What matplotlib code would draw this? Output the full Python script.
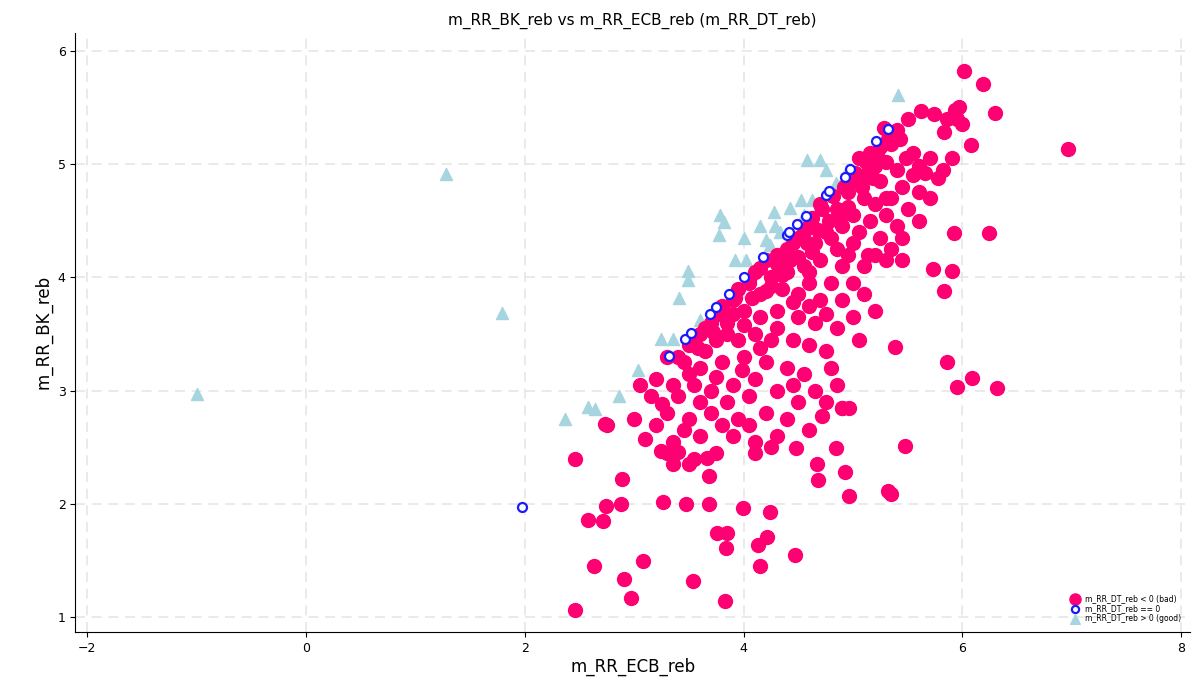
import matplotlib
matplotlib.use("Agg")
import matplotlib.pyplot as plt

# m_RR_DT_reb < 0 (bad)
bad = [
    (6.01, 5.82), (6.19, 5.71), (6.30, 5.45), (6.96, 5.13), (6.08, 5.17), (6.24, 4.39), (5.92, 4.39),
    (5.73, 4.07), (5.90, 4.06), (5.83, 3.88), (5.86, 3.25), (5.95, 3.03), (6.09, 3.11), (6.32, 3.02),
    (5.38, 3.39), (5.47, 2.51), (5.32, 2.11), (5.35, 2.09), (4.67, 2.35), (4.93, 2.28), (4.96, 2.07),
    (4.47, 1.55), (4.21, 1.71), (4.13, 1.64), (4.15, 1.45), (3.99, 1.96), (4.24, 1.93), (3.85, 1.74),
    (3.76, 1.74), (3.84, 1.61), (3.54, 1.32), (3.83, 1.14), (3.68, 2.00), (3.66, 2.41), (3.68, 2.25),
    (3.47, 2.00), (3.26, 2.02), (3.08, 1.50), (2.97, 1.17), (2.91, 1.34), (2.88, 2.00), (2.74, 1.98),
    (2.71, 1.85), (2.58, 1.86), (2.63, 1.45), (2.46, 2.40), (2.46, 1.06), (2.89, 2.22), (2.73, 2.71),
    (3.10, 2.57), (3.24, 2.47), (3.35, 2.35), (3.40, 2.46), (4.68, 2.21), (4.48, 2.49), (4.84, 2.49),
    (4.96, 2.85), (4.90, 2.85), (4.72, 2.78), (5.14, 4.20),
    (5.93, 5.48), (5.97, 5.50), (5.86, 5.40), (5.95, 5.40), (5.62, 5.47), (5.74, 5.44), (5.28, 5.32),
    (5.25, 5.15), (5.35, 5.18), (5.50, 5.40), (5.83, 5.28), (6.00, 5.35), (5.43, 5.22),
    (5.05, 5.05), (5.15, 5.10), (5.20, 4.98), (5.30, 5.02), (5.40, 4.95), (5.55, 5.10), (5.60, 4.98),
    (5.70, 5.05), (5.82, 4.95), (5.66, 4.92), (5.78, 4.88), (5.12, 4.90), (5.00, 4.85), (5.25, 4.85),
    (5.45, 4.80), (5.90, 5.05), (5.70, 4.70), (5.35, 4.70), (5.60, 4.75), (4.95, 4.75), (5.10, 4.70),
    (4.70, 4.65), (4.85, 4.60), (5.00, 4.55), (5.15, 4.50), (5.30, 4.55), (5.50, 4.60), (5.20, 4.65),
    (4.90, 4.45), (4.60, 4.45), (4.75, 4.40), (5.05, 4.40), (5.25, 4.35), (5.40, 4.45), (4.50, 4.35),
    (4.65, 4.30), (4.85, 4.25), (5.00, 4.30), (5.35, 4.25), (5.45, 4.35), (5.60, 4.50), (5.20, 4.20),
    (5.30, 4.15), (5.45, 4.15), (5.10, 4.10),
    (4.20, 4.15), (4.30, 4.20), (4.40, 4.25), (4.10, 4.05), (4.25, 4.00), (4.40, 4.05), (4.55, 4.10),
    (4.70, 4.15), (4.90, 4.10), (4.60, 3.95), (4.80, 3.95), (5.00, 3.95), (4.05, 3.95), (3.95, 3.90),
    (4.15, 3.85), (4.35, 3.90), (4.50, 3.85), (4.70, 3.80), (4.90, 3.80), (5.10, 3.85), (5.20, 3.70),
    (5.00, 3.65),
    (3.80, 3.75), (3.90, 3.80), (3.70, 3.60), (3.85, 3.60), (4.00, 3.70), (4.15, 3.65), (4.30, 3.70),
    (4.50, 3.65), (4.65, 3.60), (4.85, 3.55), (3.60, 3.50), (3.75, 3.45), (3.95, 3.45), (4.10, 3.50),
    (4.25, 3.45), (4.45, 3.45), (4.60, 3.40), (5.05, 3.45), (4.75, 3.35), (3.50, 3.40), (3.65, 3.35),
    (3.30, 3.30), (3.45, 3.25), (3.60, 3.20), (3.80, 3.25), (4.00, 3.30), (4.20, 3.25), (4.40, 3.20),
    (4.55, 3.15), (4.80, 3.20), (3.20, 3.10), (3.35, 3.05), (3.55, 3.05), (3.70, 3.00), (3.90, 3.05),
    (4.10, 3.10), (4.30, 3.00), (4.45, 3.05), (4.65, 3.00), (4.85, 3.05), (3.15, 2.95), (3.40, 2.95),
    (3.60, 2.90), (3.85, 2.90), (4.05, 2.95), (4.50, 2.90), (4.75, 2.90), (3.05, 3.05),
    (3.30, 2.80), (3.50, 2.75), (3.70, 2.80), (3.95, 2.75), (4.20, 2.80), (4.40, 2.75), (4.60, 2.65),
    (4.90, 2.85), (3.20, 2.70), (3.45, 2.65), (3.80, 2.70), (4.05, 2.70), (4.30, 2.60), (3.35, 2.55),
    (3.60, 2.60), (3.90, 2.60), (4.10, 2.55), (3.00, 2.75), (2.75, 2.70),
    (3.50, 2.35), (3.75, 2.45), (4.10, 2.45), (4.25, 2.50), (3.30, 2.45), (3.55, 2.40),
    # dense band just under the diagonal
    (3.40, 3.30), (3.55, 3.45), (3.65, 3.55), (3.78, 3.68), (3.92, 3.82), (4.05, 3.98), (4.15, 4.08),
    (4.30, 4.12), (4.45, 4.30), (4.55, 4.40), (4.62, 4.52), (4.72, 4.60), (4.82, 4.72), (4.92, 4.80),
    (5.02, 4.92), (5.12, 5.02), (5.22, 5.10), (5.32, 5.22), (5.40, 5.30), (3.85, 3.50), (4.00, 3.58),
    (4.20, 3.88), (4.35, 4.02), (4.50, 4.18), (4.62, 4.22), (4.78, 4.50), (4.95, 4.62), (5.08, 4.80),
    (5.18, 4.88), (3.58, 3.38), (3.72, 3.52), (3.90, 3.68), (4.08, 3.82), (4.25, 3.92), (4.42, 4.15),
    (4.58, 4.30), (4.68, 4.42), (4.88, 4.52), (4.80, 4.35), (4.95, 4.20), (4.60, 4.05), (4.45, 3.78),
    (4.30, 3.55), (4.15, 3.38), (3.98, 3.18), (3.75, 3.12), (3.50, 3.15), (3.25, 2.88), (4.60, 3.75),
    (4.75, 3.68), (5.30, 4.70), (5.55, 4.90), (5.48, 5.05),
]

# m_RR_DT_reb == 0
zero = [
    (1.97, 1.97), (3.32, 3.31), (3.46, 3.46), (3.52, 3.51), (3.69, 3.68), (3.75, 3.74), (3.87, 3.85),
    (4.00, 4.00), (4.18, 4.18), (4.40, 4.37), (4.41, 4.40), (4.49, 4.47), (4.57, 4.54), (4.75, 4.73),
    (4.78, 4.76), (4.93, 4.89), (4.97, 4.96), (5.21, 5.20), (5.32, 5.31),
]

# m_RR_DT_reb > 0 (good)
good = [
    (-1.00, 2.97), (1.28, 4.91), (1.79, 3.69), (2.37, 2.75), (2.58, 2.86), (2.64, 2.84), (2.86, 2.95),
    (3.03, 3.18), (3.24, 3.46), (3.35, 3.46), (3.41, 3.82), (3.49, 4.06), (3.49, 3.98), (3.77, 4.37),
    (3.78, 4.55), (3.82, 4.49), (4.00, 4.35), (4.15, 4.45), (4.28, 4.58), (4.29, 4.45), (4.20, 4.33),
    (4.33, 4.40), (4.42, 4.61), (4.52, 4.68), (4.58, 5.04), (4.70, 5.04), (4.75, 4.95), (4.62, 4.68),
    (4.68, 4.61), (5.41, 5.61), (4.84, 4.83), (4.93, 4.90), (3.60, 3.62), (3.92, 4.15), (4.02, 4.15),
    (4.24, 4.29), (4.55, 4.55),
]

fig = plt.figure(figsize=(11.96, 6.96), dpi=100)
ax = fig.add_axes([0.063, 0.092, 0.932, 0.861])

ax.scatter([p[0] for p in bad], [p[1] for p in bad], s=100, color="#ff0073",
           label="m_RR_DT_reb < 0 (bad)", zorder=3)
ax.scatter([p[0] for p in zero], [p[1] for p in zero], s=42, facecolors="white",
           edgecolors="#1a1aff", linewidths=1.6, label="m_RR_DT_reb == 0", zorder=4)
ax.scatter([p[0] for p in good], [p[1] for p in good], s=75, marker="^", color="#a6d5e0",
           label="m_RR_DT_reb > 0 (good)", zorder=2)

ax.set_xlim(-2.11, 8.08)
ax.set_ylim(0.87, 6.16)
ax.set_xticks([-2, 0, 2, 4, 6, 8])
ax.set_yticks([1, 2, 3, 4, 5, 6])
ax.grid(True, color="#e6e6e6", linestyle=(0, (6, 4)), linewidth=1.2)
ax.set_axisbelow(True)
for s in ["top", "right"]:
    ax.spines[s].set_visible(False)
ax.tick_params(labelsize=9)
ax.set_xlabel("m_RR_ECB_reb", fontsize=12, labelpad=2)
ax.set_ylabel("m_RR_BK_reb", fontsize=12)
ax.set_title("m_RR_BK_reb vs m_RR_ECB_reb (m_RR_DT_reb)", fontsize=11)
ax.legend(loc="lower right", fontsize=5.5, frameon=False, handletextpad=0.3,
          labelspacing=0.1, borderaxespad=0.8, markerscale=0.8)

fig.savefig("out.png", dpi=100)
